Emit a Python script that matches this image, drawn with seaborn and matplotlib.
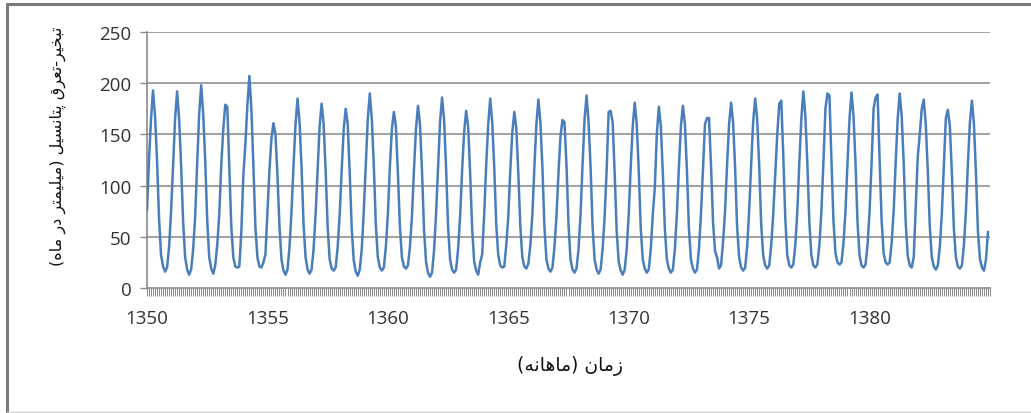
import matplotlib
matplotlib.use("Agg")
import matplotlib.pyplot as plt
from matplotlib.lines import Line2D
import seaborn as sns
import numpy as np
import pandas as pd

# ---------------- data ----------------
year_labels = ["1350", "1355", "1360", "1365", "1370", "1375", "1380"]
first_year = 1350

# monthly potential evapotranspiration (mm / month), one row per year (12 months)
evap_mm = [
    76, 125, 165, 193, 168, 125, 68, 32, 21, 16, 20, 40,     # 1350
    75, 120, 165, 192, 165, 120, 65, 30, 18, 13, 18, 38,     # 1351
    70, 122, 170, 198, 170, 125, 66, 30, 19, 14, 22, 42,     # 1352
    72, 120, 155, 179, 177, 120, 60, 30, 21, 20, 21, 55,     # 1353
    110, 140, 178, 207, 175, 120, 60, 30, 21, 20, 25, 33,    # 1354
    75, 115, 146, 161, 150, 110, 60, 28, 17, 13, 18, 40,     # 1355
    75, 120, 160, 185, 162, 118, 62, 30, 18, 14, 18, 38,     # 1356
    72, 115, 158, 180, 160, 115, 60, 28, 19, 17, 20, 40,     # 1357
    72, 115, 155, 175, 160, 112, 58, 27, 16, 12, 18, 38,     # 1358
    75, 120, 165, 190, 165, 120, 62, 30, 20, 17, 20, 40,     # 1359
    72, 118, 155, 172, 158, 112, 60, 30, 21, 19, 22, 40,     # 1360
    70, 115, 155, 178, 160, 115, 58, 26, 15, 11, 15, 36,     # 1361
    72, 118, 162, 186, 165, 118, 60, 28, 18, 15, 18, 38,     # 1362
    70, 115, 152, 173, 158, 112, 58, 26, 17, 13, 25, 33,     # 1363
    72, 120, 160, 185, 162, 118, 62, 32, 22, 20, 21, 42,     # 1364
    70, 115, 152, 172, 156, 112, 60, 30, 21, 19, 24, 42,     # 1365
    72, 118, 160, 184, 162, 118, 60, 28, 19, 16, 20, 40,     # 1366
    70, 112, 148, 164, 162, 120, 62, 28, 18, 15, 19, 38,     # 1367
    72, 120, 165, 188, 162, 118, 60, 28, 18, 14, 18, 38,     # 1368
    70, 115, 172, 173, 162, 112, 56, 26, 17, 13, 18, 38,     # 1369
    72, 118, 158, 181, 160, 115, 58, 28, 19, 15, 18, 38,     # 1370
    72, 98, 150, 177, 158, 112, 58, 28, 19, 15, 18, 38,      # 1371
    72, 118, 158, 178, 160, 115, 58, 28, 19, 15, 18, 38,     # 1372
    72, 115, 160, 166, 166, 120, 65, 36, 30, 19, 22, 45,     # 1373
    75, 120, 160, 181, 162, 118, 60, 30, 20, 17, 20, 40,     # 1374
    75, 120, 162, 185, 165, 120, 62, 32, 22, 19, 22, 42,     # 1375
    72, 110, 150, 180, 183, 130, 68, 32, 22, 20, 23, 42,     # 1376
    75, 122, 165, 192, 168, 122, 64, 32, 22, 20, 23, 42,     # 1377
    75, 122, 175, 190, 188, 125, 66, 34, 25, 23, 25, 44,     # 1378
    75, 122, 165, 191, 168, 122, 64, 32, 22, 20, 23, 42,     # 1379
    75, 122, 175, 186, 189, 125, 66, 34, 25, 23, 25, 44,     # 1380
    75, 122, 165, 190, 168, 122, 64, 32, 22, 20, 30, 80,     # 1381
    128, 150, 175, 184, 160, 115, 60, 30, 21, 18, 22, 40,    # 1382
    72, 120, 166, 174, 158, 112, 58, 30, 21, 19, 22, 42,     # 1383
    75, 122, 162, 183, 160, 112, 55, 28, 20, 17, 28, 55,     # 1384
]
y_ticks = [0, 50, 100, 150, 200, 250]

y_label = "تبخیر-تعرق پتانسیل (میلیمتر در ماه)"
x_label = "زمان (ماهانه)"

# ---------------- Persian shaping (matplotlib has no complex text layout) ----
FORMS = {
    'ا': ('\uFE8D', '\uFE8E', None, None),
    'ب': ('\uFE8F', '\uFE90', '\uFE91', '\uFE92'),
    'پ': ('\uFB56', '\uFB57', '\uFB58', '\uFB59'),
    'ت': ('\uFE95', '\uFE96', '\uFE97', '\uFE98'),
    'خ': ('\uFEA5', '\uFEA6', '\uFEA7', '\uFEA8'),
    'د': ('\uFEA9', '\uFEAA', None, None),
    'ر': ('\uFEAD', '\uFEAE', None, None),
    'ز': ('\uFEAF', '\uFEB0', None, None),
    'س': ('\uFEB1', '\uFEB2', '\uFEB3', '\uFEB4'),
    'ع': ('\uFEC9', '\uFECA', '\uFECB', '\uFECC'),
    'ق': ('\uFED5', '\uFED6', '\uFED7', '\uFED8'),
    'ل': ('\uFEDD', '\uFEDE', '\uFEDF', '\uFEE0'),
    'م': ('\uFEE1', '\uFEE2', '\uFEE3', '\uFEE4'),
    'ن': ('\uFEE5', '\uFEE6', '\uFEE7', '\uFEE8'),
    'ه': ('\uFEE9', '\uFEEA', '\uFEEB', '\uFEEC'),
    'ی': ('\uFBFC', '\uFBFD', '\uFBFE', '\uFBFF'),
}


def shape_rtl(s):
    out = []
    for i, c in enumerate(s):
        if c not in FORMS:
            out.append(c)
            continue
        prev = s[i - 1] if i > 0 else ''
        nxt = s[i + 1] if i + 1 < len(s) else ''
        join_prev = prev in FORMS and FORMS[prev][2] is not None
        join_next = nxt in FORMS and FORMS[c][2] is not None
        iso, fin, ini, med = FORMS[c]
        if join_prev and join_next:
            out.append(med)
        elif join_prev:
            out.append(fin)
        elif join_next:
            out.append(ini)
        else:
            out.append(iso)
    mirror = {'(': ')', ')': '('}
    return ''.join(mirror.get(c, c) for c in reversed(out))


# ---------------- plot ----------------
sns.set_theme(style="white")
plt.rcParams['font.family'] = ['Open Sans', 'DejaVu Sans']

df = pd.DataFrame({"month": np.arange(len(evap_mm)), "evap": evap_mm})

W, H = 1031, 414
fig = plt.figure(figsize=(W / 100, H / 100), dpi=100)
fig.patch.set_facecolor("white")
ax = fig.add_axes([147 / W, 125 / H, 843 / W, 256 / H])

grid_c = "#9a9a9a"
for yv in y_ticks[1:]:
    ax.axhline(yv, color=grid_c, lw=1.3, zorder=0)

sns.lineplot(data=df, x="month", y="evap", ax=ax, color="#4a7ebb", lw=1.8,
             zorder=3)

ax.set_xlim(0, len(evap_mm) - 1)
ax.set_ylim(0, 250)
ax.set_yticks(y_ticks)
ax.set_yticklabels([str(v) for v in y_ticks])
major_pos = [(int(l) - first_year) * 12 for l in year_labels]
ax.set_xticks(major_pos)
ax.set_xticklabels(year_labels)
ax.set_xticks(np.arange(0, len(evap_mm) + 1), minor=True)

ax.set_xlabel("")
ax.set_ylabel("")
for s in ["top", "right"]:
    ax.spines[s].set_visible(False)
for s in ["left", "bottom"]:
    ax.spines[s].set_color("#8a8a8a")
    ax.spines[s].set_linewidth(1.2)

ax.tick_params(axis="x", which="both", direction="out", length=6,
               width=0.7, color="#8a8a8a", pad=9, labelsize=13.5,
               labelcolor="#333333", bottom=True)
ax.tick_params(axis="y", which="major", direction="out", length=5,
               width=1.0, color="#8a8a8a", pad=6, labelsize=13.5,
               labelcolor="#333333", left=True)

fig.text(570 / W, 1 - 366 / H, shape_rtl(x_label), ha="center", va="center",
         fontsize=13.5, family="DejaVu Sans", color="#111111")
fig.text(58 / W, 1 - 146 / H, shape_rtl(y_label), ha="center", va="center",
         rotation=90, fontsize=11.5, family="DejaVu Sans", color="#111111")

# outer frame like the source document
fig.add_artist(Line2D([7 / W, 1.0], [1 - 4.5 / H, 1 - 4.5 / H],
                      transform=fig.transFigure, color="#7a7a7a", lw=2.2))
fig.add_artist(Line2D([7 / W, 7 / W], [1 - 4.5 / H, 0.0],
                      transform=fig.transFigure, color="#7a7a7a", lw=2.2))
fig.add_artist(Line2D([7 / W, 1.0], [1.5 / H, 1.5 / H],
                      transform=fig.transFigure, color="#d0d0d0", lw=1.0))

fig.savefig("out.png", dpi=100)
